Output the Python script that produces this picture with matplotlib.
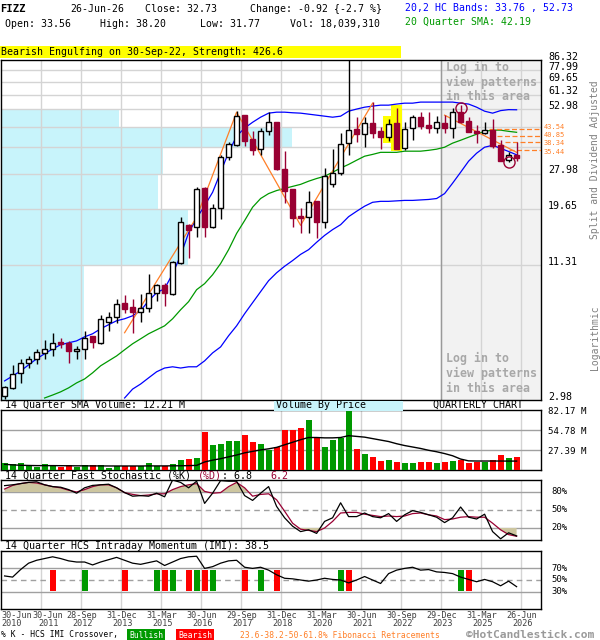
import numpy as np
import matplotlib
matplotlib.use('Agg')
import matplotlib.pyplot as plt
import matplotlib.transforms as mtransforms
from matplotlib.patches import Rectangle
from matplotlib.ticker import NullLocator

plt.rcParams['font.family'] = ['DejaVu Sans Mono', 'DejaVu Sans']

# quarterly candles, 30-Jun-2010 .. 26-Jun-2026 (index 0..64)
opens = [3.10, 3.36, 3.89, 4.30, 4.48, 4.75, 4.95, 5.30, 5.25, 4.85,
         4.95, 5.62, 5.25, 6.47, 6.79, 7.80, 7.50, 7.14, 7.43, 8.63,
         9.33, 8.54, 11.6, 16.9, 16.5, 24.2, 16.6, 20.0, 33.0, 37.1,
         50.0, 39.4, 35.7, 42.6, 46.6, 29.3, 24.0, 18.5, 18.3, 21.3,
         17.4, 25.4, 28.1, 37.9, 43.5, 41.4, 46.1, 42.6, 40.2, 46.1,
         36.0, 44.0, 49.0, 45.2, 44.0, 46.1, 44.0, 51.5, 47.1, 42.6,
         41.8, 43.1, 37.1, 32.0, 33.56]
highs = [3.43, 4.22, 4.48, 4.61, 4.95, 5.40, 5.80, 5.51, 5.35, 5.10,
         5.91, 5.62, 6.92, 7.14, 8.12, 8.45, 8.12, 8.54, 10.4, 9.42,
         9.52, 11.85, 18.3, 17.1, 24.5, 24.5, 20.7, 33.7, 38.3, 52.0,
         50.0, 42.6, 43.9, 51.5, 46.6, 35.0, 24.0, 19.9, 23.7, 21.3,
         29.6, 35.7, 41.8, 86.0, 49.0, 49.0, 56.9, 44.4, 48.0, 53.6,
         46.6, 50.0, 51.5, 51.5, 49.5, 50.0, 53.6, 55.2, 49.0, 45.2,
         46.6, 48.0, 39.0, 34.7, 38.20]
lows = [3.01, 3.33, 3.53, 4.09, 4.26, 4.48, 4.61, 5.00, 4.30, 4.48,
        4.48, 5.00, 5.19, 5.91, 6.40, 7.07, 5.80, 6.47, 7.14, 7.96,
        7.57, 8.45, 11.5, 12.2, 14.9, 14.9, 16.3, 17.8, 32.0, 36.7,
        36.7, 33.7, 33.7, 41.0, 29.0, 20.9, 16.5, 15.6, 15.6, 14.8,
        16.3, 24.5, 27.6, 33.7, 38.3, 36.4, 39.8, 35.7, 38.6, 35.7,
        35.3, 39.0, 43.5, 41.8, 41.8, 41.8, 39.8, 46.1, 42.2, 37.9,
        41.4, 36.0, 31.7, 31.3, 31.77]
closes = [3.39, 3.86, 4.30, 4.48, 4.80, 4.95, 5.25, 5.19, 4.85, 4.95,
          5.51, 5.30, 6.66, 6.79, 7.73, 7.35, 7.14, 7.43, 8.63, 9.33,
          8.63, 11.7, 17.4, 16.0, 24.0, 16.6, 20.0, 33.0, 37.5, 49.5,
          38.6, 35.3, 42.6, 46.6, 29.3, 23.5, 18.1, 18.1, 21.1, 17.4,
          27.5, 28.1, 37.5, 43.1, 41.4, 46.1, 41.8, 40.2, 45.7, 35.7,
          43.5, 49.0, 44.8, 44.0, 46.6, 44.0, 51.5, 46.6, 42.2, 41.8,
          43.1, 36.7, 31.7, 33.65, 32.73]

# 20,2 HC bands and 20 quarter SMA (lower band starts at index 15, SMA at 5)
upper_band = [3.60, 3.78, 3.97, 4.22, 4.48, 4.71, 4.94, 5.15, 5.25, 5.35,
              5.57, 5.74, 6.03, 6.28, 6.53, 6.66, 6.86, 7.21, 7.96, 8.62,
              8.97, 10.4, 12.45, 15.6, 18.0, 20.4, 23.3, 28.4, 34.6, 40.6,
              44.0, 46.6, 49.0, 51.0, 51.5, 51.5, 51.2, 51.0, 50.5, 50.0,
              49.5, 49.0, 49.5, 52.0, 53.1, 54.1, 54.7, 55.2, 55.2, 55.8,
              56.3, 56.3, 56.9, 56.9, 56.9, 56.9, 56.9, 56.3, 55.8, 54.1,
              52.0, 51.0, 52.3, 52.8, 52.73]
lower_band = [3.04, 3.32, 3.49, 3.71, 3.94, 4.09, 4.14, 4.09, 4.14, 4.14,
              4.39, 4.75, 5.04, 5.63, 6.21, 7.00, 7.81, 8.71, 9.71, 10.5,
              11.2, 11.85, 12.6, 13.2, 14.2, 15.2, 16.1, 16.9, 18.3, 19.3,
              20.3, 21.1, 21.3, 21.3, 21.4, 21.5, 21.5, 21.6, 21.7, 21.9,
              23.0, 25.5, 28.4, 31.7, 34.3, 36.4, 37.1, 36.0, 34.9, 33.76]
sma20 = [3.04, 3.13, 3.23, 3.36, 3.53, 3.67, 3.90, 4.18, 4.39, 4.61,
         4.90, 5.20, 5.46, 5.74, 5.97, 6.21, 6.66, 7.28, 7.89, 8.88,
         9.43, 10.3, 11.5, 13.2, 15.5, 17.6, 20.1, 21.9, 23.0, 23.7,
         24.2, 24.7, 25.2, 26.0, 26.7, 27.3, 28.4, 29.6, 30.7, 32.0,
         33.3, 33.9, 34.6, 34.6, 34.6, 35.0, 35.0, 35.0, 35.3, 35.7,
         36.4, 37.9, 39.0, 40.2, 41.4, 42.6, 43.1, 43.1, 42.6, 42.19]

# trend lines (pivot quarter, price)
zig_idx = [15, 24, 29, 37, 46]
zig_price = [5.80, 18.2, 51.5, 16.8, 56.3]
trend2_idx = [55, 64]
trend2_price = [50.0, 34.6]

fib_levels = [43.54, 40.85, 38.34, 35.44]
fib_from = [60.5, 61.5, 62.5, 63.0]

engulf_idx = [48, 49]
top_mark_idx = [57]
bottom_mark_idx = [63]

# volume by price (share of volume per band between price levels)
price_levels = [2.98, 11.31, 19.65, 27.98, 36.31, 44.65, 52.98, 61.32, 69.65, 77.99, 86.32]
label_levels = [2.98, 11.31, 19.65, 27.98, 52.98, 61.32, 69.65, 77.99, 86.32]
vbp_share = [8.3, 18.8, 15.7, 16.2, 29.2, 11.8]

# volume in millions and its 14 quarter SMA
volume = [9.1, 7.8, 9.6, 6.4, 4.1, 8.2, 6.4, 4.1, 6.4, 4.1,
          6.4, 6.4, 6.4, 2.7, 5.0, 5.0, 5.0, 5.0, 9.6, 5.0,
          5.0, 8.2, 13.7, 15.5, 16.9, 52.5, 34.2, 35.6, 40.2, 40.2,
          47.9, 38.3, 35.6, 26.9, 31.5, 55.2, 55.2, 57.5, 68.5, 43.4,
          31.5, 41.1, 43.4, 82.2, 28.8, 21.9, 18.3, 12.3, 13.7, 10.5,
          9.6, 9.6, 11.0, 11.0, 9.6, 11.0, 12.3, 13.7, 10.0, 11.4,
          11.4, 13.7, 20.5, 16.9, 18.04]
vol_sma = [7.8, 7.0, 6.5, 6.2, 6.0, 6.0, 6.0, 5.9, 5.8, 5.7,
           5.7, 5.6, 5.6, 5.5, 5.5, 5.5, 5.5, 5.5, 5.6, 5.6,
           5.6, 5.7, 5.8, 6.0, 6.3, 11.0, 13.5, 15.5, 18.0, 20.5,
           23.5, 25.5, 27.5, 29.0, 31.0, 34.5, 38.0, 41.5, 44.5, 44.5,
           44.0, 44.0, 44.5, 47.0, 46.0, 45.0, 43.0, 41.0, 39.0, 36.0,
           33.5, 31.5, 29.5, 27.0, 25.0, 22.5, 19.5, 15.0, 12.5, 12.3,
           12.3, 12.3, 12.3, 12.2, 12.21]
vol_ticks = [82.17, 54.78, 27.39]

# 14 quarter fast stochastic
stoch_k = [90.6, 92, 94, 96, 97, 92, 89, 88, 84, 78,
           87, 91, 92, 93, 87, 79, 73, 74, 73, 78,
           72, 100, 96, 87, 98, 61, 78, 99, 98, 98,
           74, 66, 78, 89, 56, 37, 23, 14, 17, 11,
           31, 37, 62, 39, 39, 45, 39, 37, 44, 31,
           42, 49, 46, 42, 38, 29, 37, 55, 38, 35,
           43, 14, 2, 12, 6.8]
stoch_d = [85, 91, 94, 96, 95, 92, 89, 87, 83, 80,
           84, 89, 92, 92, 87, 79, 76, 74, 75, 77,
           77, 84, 89, 92, 94, 81, 78, 79, 89, 96,
           87, 73, 76, 77, 67, 48, 28, 18, 16, 14,
           20, 31, 45, 46, 46, 43, 41, 39, 40, 39,
           40, 44, 45, 42, 40, 34, 35, 38, 39, 38,
           38, 28, 17, 9, 6.2]

# 14 quarter HCS intraday momentum
imi = [57, 55, 68, 79, 84, 87, 90, 87, 83, 81,
       81, 76, 81, 85, 89, 84, 79, 77, 80, 83,
       75, 81, 87, 90, 91, 70, 73, 79, 83, 84,
       72, 70, 72, 67, 59, 53, 52, 50, 48, 50,
       53, 51, 50, 45, 50, 56, 50, 44, 61, 67,
       70, 72, 67, 68, 64, 63, 61, 55, 51, 47,
       51, 47, 40, 48, 38.5]
bull_cross = [10, 19, 21, 24, 26, 32, 42, 57]
bear_cross = [6, 15, 20, 23, 25, 30, 34, 43, 58]

# x axis: quarter index of labelled quarter ends
tick_quarters = [4, 9, 14, 19, 24, 29, 34, 39, 44, 49, 54, 59, 64]
tick_dates = ['30-Jun', '28-Sep', '31-Dec', '31-Mar', '30-Jun', '29-Sep', '31-Dec',
              '31-Mar', '30-Jun', '30-Sep', '29-Dec', '31-Mar', '26-Jun']
tick_years = ['2011', '2012', '2013', '2015', '2016', '2017', '2018',
              '2020', '2021', '2022', '2023', '2025', '2026']

MAROON = '#990033'
GREEN = '#009900'
BLUE = '#0000ff'
ORANGE = '#ff7f27'
CYAN = '#c8f4fb'

W, H = 600.0, 640.0
fig = plt.figure(figsize=(6, 6.4), dpi=100)


def panel(top, bottom):
    return fig.add_axes([1 / W, 1 - bottom / H, 540 / W, (bottom - top) / H])


def ftext(xp, yp, s, **kw):
    kw.setdefault('size', 7.1)
    kw.setdefault('va', 'center')
    fig.text(xp / W, 1 - yp / H, s, **kw)


ax = panel(60, 400)
axv = panel(410, 470)
axs = panel(480, 540)
axi = panel(551, 609)

x = np.arange(len(closes))
XL = (-0.45, 67.05)
grid_x = np.array(tick_quarters) + 0.5

ax.set_yscale('log')
ax.set_ylim(price_levels[0], price_levels[-1])
axv.set_ylim(0, vol_ticks[0])
axs.set_ylim(0, 100)
axi.set_ylim(0, 100)
for a in (ax, axv, axs, axi):
    a.set_xlim(*XL)
    a.set_xticks([])
    a.set_yticks([])
    a.yaxis.set_minor_locator(NullLocator())
    for s in a.spines.values():
        s.set_color('black')
        s.set_linewidth(1)
    for g in grid_x:
        a.axvline(g, color='#d4d4d4', lw=1, zorder=1.2)

# ---- main price panel ----
ax.axvspan(grid_x[10], XL[1], color='#f2f2f2', zorder=0)
ax.axvline(grid_x[10], color='#9a9a9a', lw=1, zorder=1.3)

share = np.array(vbp_share)
widths = share / share.max() * 36.4
for k in range(len(vbp_share)):
    ax.barh(price_levels[k], widths[k], height=price_levels[k + 1] - price_levels[k],
            left=XL[0], align='edge', color=CYAN, lw=0, zorder=0.5)
for lv in price_levels[1:-1]:
    ax.axhline(lv, color='#d4d4d4', lw=1, zorder=1.2)

o = np.array(opens); h = np.array(highs); l = np.array(lows); c = np.array(closes)
up = c >= o

for i in engulf_idx:
    ax.add_patch(Rectangle((i - 0.65, l[i] * 0.985), 1.3, h[i] * 1.03 - l[i] * 0.985,
                           color='yellow', lw=0, zorder=2))

ax.plot(x, upper_band, color=BLUE, lw=0.9, zorder=3)
ax.plot(np.arange(len(x) - len(lower_band), len(x)), lower_band, color=BLUE, lw=0.9, zorder=3)
ax.plot(np.arange(len(x) - len(sma20), len(x)), sma20, color=GREEN, lw=0.9, zorder=3)
ax.plot(zig_idx, zig_price, color=ORANGE, lw=0.9, zorder=3.5)
ax.plot(trend2_idx, trend2_price, color=ORANGE, lw=0.9, zorder=3.5)
for lv, st in zip(fib_levels, fib_from):
    ax.plot([st, XL[1]], [lv, lv], color=ORANGE, lw=0.9, ls=(0, (4, 2)), zorder=3.5)

ax.vlines(x[up], l[up], h[up], color='black', lw=1, zorder=4)
ax.vlines(x[~up], l[~up], h[~up], color=MAROON, lw=1, zorder=4)
lo_b = np.minimum(o, c)
hi_b = np.maximum(o, c)
ax.bar(x[up], hi_b[up] - lo_b[up], bottom=lo_b[up], width=0.68, facecolor='white',
       edgecolor='black', lw=1, zorder=5)
ax.bar(x[~up], hi_b[~up] - lo_b[~up], bottom=lo_b[~up], width=0.68, facecolor=MAROON,
       edgecolor=MAROON, lw=1, zorder=5)

ax.plot(top_mark_idx, h[top_mark_idx] * 0.975, 'o', ms=8, mfc='none', mec=MAROON, mew=1, zorder=6)
ax.plot(bottom_mark_idx, l[bottom_mark_idx], 'o', ms=8, mfc='none', mec=MAROON, mew=1, zorder=6)

tr = mtransforms.blended_transform_factory(ax.transAxes, ax.transData)
off = mtransforms.ScaledTranslation(7 / 100, 3.5 / 100, fig.dpi_scale_trans)
for v in label_levels:
    ax.text(1.0, v, f'{v:.2f}', transform=tr + off, ha='left', va='center', size=7.2, clip_on=False)
# fib labels are packed tightly, nudge them apart a little
fib_nudge = [1.9, 0.5, -1.5, -1.8]
for v, dy in zip(fib_levels, fib_nudge):
    off_f = mtransforms.ScaledTranslation(3 / 100, dy / 100, fig.dpi_scale_trans)
    ax.text(1.0, v, f'{v:.2f}', transform=tr + off_f, ha='left', va='center', size=5.0,
            color=ORANGE, clip_on=False)

for yp in (67, 358):
    for k, line in enumerate(['Log in to', 'view patterns', 'in this area']):
        ftext(446, yp + 15 * k, line, size=8.4, weight='bold', color='#a8a8a8')

ftext(595, 160, 'Split and Dividend Adjusted', rotation=90, ha='center', color='#808080', size=7)
ftext(595, 338, 'Logarithmic', rotation=90, ha='center', color='#808080', size=7)

# ---- volume panel ----
vcol = np.where(up, GREEN, '#ff0000')
axv.bar(x, volume, width=0.75, color=vcol, zorder=3)
axv.plot(x, vol_sma, color='black', lw=1, zorder=4)
for v in vol_ticks[1:]:
    axv.axhline(v, color='#a0a0a0', lw=1, zorder=1.5)
trv = mtransforms.blended_transform_factory(axv.transAxes, axv.transData)
offl = mtransforms.ScaledTranslation(7 / 100, -2 / 100, fig.dpi_scale_trans)
for v in vol_ticks:
    axv.text(1.0, v, f'{v:.2f} M', transform=trv + offl, ha='left', va='center', size=6.6, clip_on=False)

# ---- stochastic panel ----
sd = np.array(stoch_d, dtype=float)
axs.fill_between(x, 80, sd, where=sd > 80, interpolate=True, color='#cdc6a0', lw=0, zorder=2)
axs.fill_between(x, 20, sd, where=sd < 20, interpolate=True, color='#cdc6a0', lw=0, zorder=2)
axs.axhline(80, color='#a0a0a0', lw=1, zorder=1.5)
axs.axhline(20, color='#a0a0a0', lw=1, zorder=1.5)
axs.axhline(50, color='#a0a0a0', lw=1, ls=(0, (4, 3)), zorder=1.5)
axs.plot(x, stoch_d, color=MAROON, lw=0.9, zorder=3)
axs.plot(x, stoch_k, color='black', lw=0.9, zorder=4)
trs = mtransforms.blended_transform_factory(axs.transAxes, axs.transData)
offs = mtransforms.ScaledTranslation(10 / 100, 0, fig.dpi_scale_trans)
for v in (80, 50, 20):
    axs.text(1.0, v, f'{v}%', transform=trs + offs, ha='left', va='center', size=6.4, clip_on=False)

# ---- IMI panel ----
axi.axhline(70, color='#a0a0a0', lw=1, zorder=1.5)
axi.axhline(30, color='#a0a0a0', lw=1, zorder=1.5)
axi.axhline(50, color='#a0a0a0', lw=1, ls=(0, (4, 3)), zorder=1.5)
axi.bar(bull_cross, 35.5, bottom=31.5, width=0.75, color=GREEN, zorder=3)
axi.bar(bear_cross, 35.5, bottom=31.5, width=0.75, color='#ff0000', zorder=3)
axi.plot(x, imi, color='black', lw=0.9, zorder=4)
tri = mtransforms.blended_transform_factory(axi.transAxes, axi.transData)
for v in (70, 50, 30):
    axi.text(1.0, v, f'{v}%', transform=tri + offs, ha='left', va='center', size=6.4, clip_on=False)

# x labels
trx = mtransforms.blended_transform_factory(axi.transData, fig.transFigure)
axi.text(XL[0], 1 - 615 / H, '30-Jun', transform=trx, ha='left', va='center', size=6.1, color='#404040')
axi.text(XL[0], 1 - 624 / H, '2010', transform=trx, ha='left', va='center', size=6.1, color='#404040')
for k, g in enumerate(grid_x):
    sh = 0.95 if k == 0 else 0.2
    axi.text(g + sh, 1 - 615 / H, tick_dates[k], transform=trx, ha='center', va='center',
             size=6.1, color='#404040')
    axi.text(g + sh, 1 - 624 / H, tick_years[k], transform=trx, ha='center', va='center',
             size=6.1, color='#404040')

# ---- header ----
ftext(0, 9, 'FIZZ', weight='bold', size=7.6)
ftext(70, 9, '26-Jun-26')
ftext(145, 9, f'Close: {closes[-1]:.2f}')
ftext(250, 9, 'Change: -0.92 {-2.7 %}')
ftext(405, 8, '20,2 HC Bands: 33.76 , 52.73', color=BLUE)
ftext(5, 24, f'Open: {opens[-1]:.2f}')
ftext(100, 24, f'High: {highs[-1]:.2f}')
ftext(200, 24, f'Low: {lows[-1]:.2f}')
ftext(290, 24, 'Vol: 18,039,310')
ftext(405, 22, '20 Quarter SMA: 42.19', color=GREEN)
fig.patches.append(Rectangle((0, 1 - 58 / H), 401 / W, 12 / H, transform=fig.transFigure,
                             color='yellow', lw=0))
ftext(1, 52, 'Bearish Engulfing on 30-Sep-22, Strength: 426.6')

# panel titles
ftext(5, 405, '14 Quarter SMA Volume: 12.21 M', size=7.2)
fig.patches.append(Rectangle((274 / W, 1 - 411 / H), 129 / W, 10 / H, transform=fig.transFigure,
                             color=CYAN, lw=0))
ftext(276, 405, 'Volume By Price', size=7.2)
ftext(433, 405, 'QUARTERLY CHART', size=7.2)
cw = 0.602 * 7.2 * 100 / 72  # monospace advance in px
ftext(5, 476, '14 Quarter Fast Stochastic (%K)', size=7.2)
ftext(5 + 32 * cw, 476, '(%D)', size=7.2, color=MAROON)
ftext(5 + 36 * cw, 476, f': {stoch_k[-1]}', size=7.2)
ftext(5 + 44 * cw, 476, f'{stoch_d[-1]}', size=7.2, color=MAROON)
ftext(5, 546, f'14 Quarter HCS Intraday Momentum (IMI): {imi[-1]}', size=7.2)

# footer
ftext(1, 635, '% K - HCS IMI Crossover,', size=5.8)
fig.patches.append(Rectangle((127 / W, 1 - 640 / H), 38 / W, 11 / H, transform=fig.transFigure,
                             color=GREEN, lw=0))
ftext(146, 635, 'Bullish', size=5.8, color='white', ha='center')
fig.patches.append(Rectangle((176 / W, 1 - 640 / H), 38 / W, 11 / H, transform=fig.transFigure,
                             color='#ff0000', lw=0))
ftext(195, 635, 'Bearish', size=5.8, color='white', ha='center')
ftext(240, 635, '23.6-38.2-50-61.8% Fibonacci Retracements', size=5.8, color=ORANGE)
ftext(466, 635.5, '©HotCandlestick.com', size=8.1, weight='bold', color='#9a9a9a')

fig.savefig('out.png', dpi=100)
